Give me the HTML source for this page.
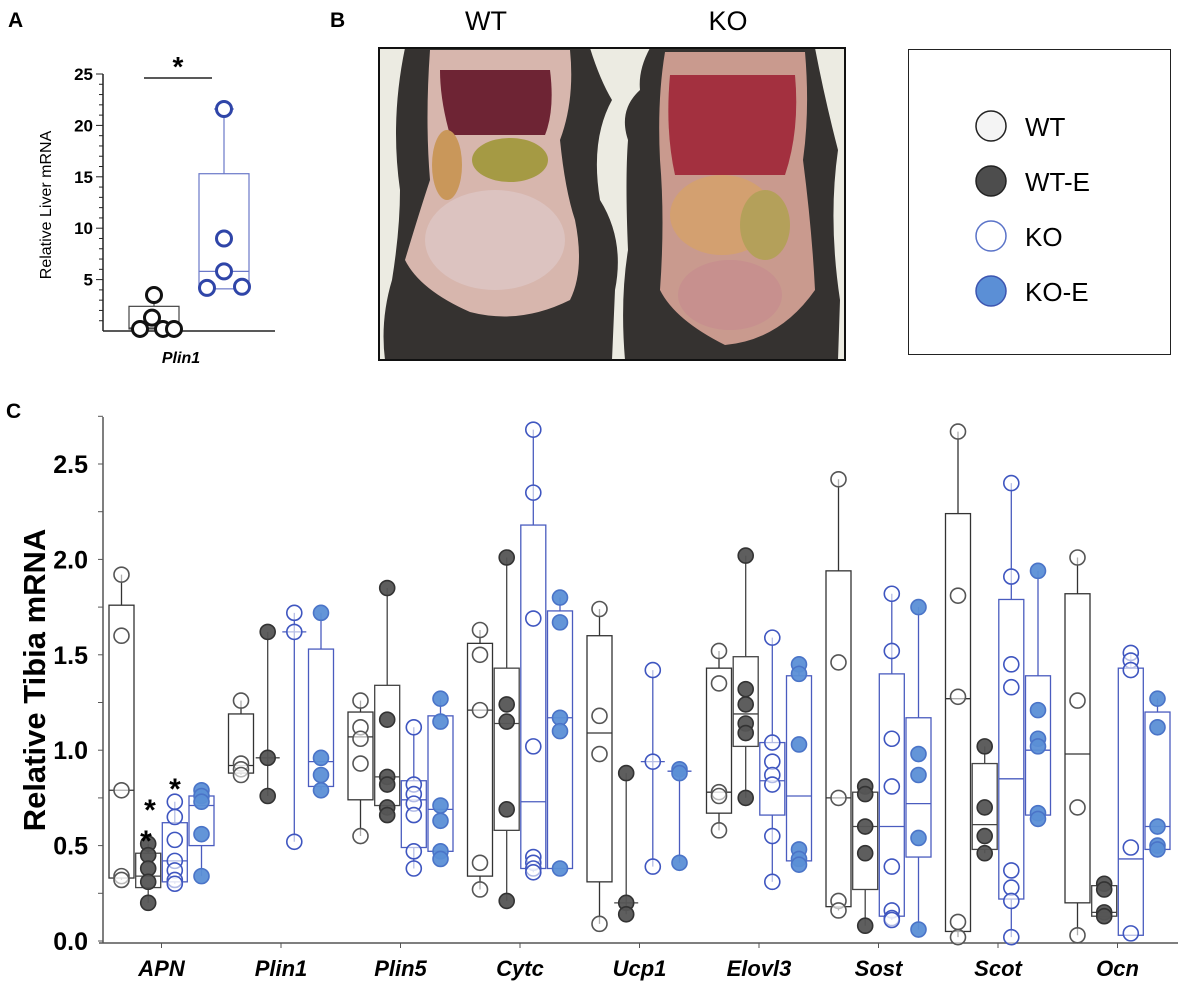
<!DOCTYPE html>
<html><head><meta charset="utf-8"><style>
html,body{margin:0;padding:0;background:#fff}
svg{display:block;font-family:"Liberation Sans",Arial,sans-serif}
</style></head><body>
<svg id="fig" width="1181" height="997" viewBox="0 0 1181 997">
<text x="8" y="27" font-size="21" font-weight="bold">A</text>
<text x="330" y="27" font-size="21" font-weight="bold">B</text>
<text x="6" y="418" font-size="21" font-weight="bold">C</text>

<!-- Panel B photo -->
<g>
<text x="486" y="30" font-size="27" text-anchor="middle">WT</text>
<text x="728" y="30" font-size="27" text-anchor="middle">KO</text>
<rect x="379" y="48" width="466" height="312" fill="#ecebe2"/>
<path d="M405 48 L590 48 Q600 80 612 100 Q590 140 600 200 Q625 240 615 290 L612 360 L385 360 Q380 320 392 280 Q400 230 400 190 Q390 120 405 48Z" fill="#353230"/>
<path d="M430 50 L570 50 Q575 100 560 140 Q565 190 575 220 Q585 270 570 300 Q520 325 470 312 Q420 290 405 260 Q420 210 430 180 Q425 120 430 50Z" fill="#d7b6ad"/>
<path d="M440 70 L550 70 Q555 110 545 135 L450 135 Q440 100 440 70Z" fill="#6e2434"/>
<ellipse cx="510" cy="160" rx="38" ry="22" fill="#a59a44"/>
<ellipse cx="447" cy="165" rx="15" ry="35" fill="#c9975a"/>
<ellipse cx="495" cy="240" rx="70" ry="50" fill="#dcc3c0"/>
<path d="M650 48 L815 48 Q825 100 838 150 Q828 220 840 300 L838 360 L625 360 Q620 300 628 250 Q625 180 628 140 Q618 110 640 90 Q638 70 650 48Z" fill="#353230"/>
<path d="M665 52 L805 52 Q810 110 803 160 Q812 230 815 290 Q780 340 725 345 Q675 320 660 290 Q665 220 660 160 Q657 100 665 52Z" fill="#c99a8e"/>
<path d="M670 75 L795 75 Q800 130 785 175 L675 175 Q665 130 670 75Z" fill="#a3303f"/>
<ellipse cx="722" cy="215" rx="52" ry="40" fill="#d3a070"/>
<ellipse cx="765" cy="225" rx="25" ry="35" fill="#b4a05a"/>
<ellipse cx="730" cy="295" rx="52" ry="35" fill="#c7908e"/>
<rect x="379" y="48" width="466" height="312" fill="none" stroke="#111" stroke-width="2"/>
</g>

<!-- Legend -->
<g>
<rect x="908.5" y="49.5" width="262" height="305" fill="#fff" stroke="#222" stroke-width="1"/>
<g><circle cx="991" cy="126" r="15" fill="#f4f4f4" stroke="#222" stroke-width="1.5"/><text x="1025" y="136" font-size="26">WT</text></g>
<g><circle cx="991" cy="181" r="15" fill="#4d4d4d" stroke="#222" stroke-width="1.5"/><text x="1025" y="191" font-size="26">WT-E</text></g>
<g><circle cx="991" cy="236" r="15" fill="#fff" stroke="#5a73c8" stroke-width="1.5"/><text x="1025" y="246" font-size="26">KO</text></g>
<g><circle cx="991" cy="291" r="15" fill="#5b8fd6" stroke="#3c55b0" stroke-width="1.5"/><text x="1025" y="301" font-size="26">KO-E</text></g>
</g>

<g id="chartA"></g>
<g id="chartC"></g>
</svg>
<script>
// ---------- Panel A data ----------
const aTicks = [5, 10, 15, 20, 25];
const aWtPts = [3.5, 1.3, 0.2, 0.2, 0.2];
const aWtBox = [0.2, 0.2, 0.3, 2.4, 3.5];
const aKoPts = [21.6, 9.0, 5.8, 4.2, 4.3];
const aKoBox = [4.1, 4.1, 5.8, 15.3, 21.6];

// ---------- Panel C data ----------
const genes = ["APN","Plin1","Plin5","Cytc","Ucp1","Elovl3","Sost","Scot","Ocn"];
const cTicks = ["0.0","0.5","1.0","1.5","2.0","2.5"];
const wtPts = [[1.92,1.6,0.79,0.34,0.32],[1.26,0.93,0.9,0.87],[1.26,1.12,1.06,0.93,0.55],[1.63,1.5,1.21,0.41,0.27],[1.74,1.18,0.98,0.09],[1.52,1.35,0.78,0.76,0.58],[2.42,1.46,0.75,0.21,0.16],[2.67,1.81,1.28,0.1,0.02],[2.01,1.26,0.7,0.03]];
const wtBox = [[0.32,0.33,0.79,1.76,1.92],[0.87,0.88,0.92,1.19,1.26],[0.55,0.74,1.07,1.2,1.26],[0.27,0.34,1.21,1.56,1.63],[0.09,0.31,1.09,1.6,1.74],[0.58,0.67,0.78,1.43,1.52],[0.16,0.18,0.75,1.94,2.42],[0.02,0.05,1.27,2.24,2.67],[0.03,0.2,0.98,1.82,2.01]];
const wtePts = [[0.51,0.45,0.38,0.31,0.2],[1.62,0.96,0.76],[1.85,1.16,0.86,0.82,0.7,0.66],[2.01,1.24,1.15,0.69,0.21],[0.88,0.2,0.14],[2.02,1.32,1.24,1.14,1.09,0.75],[0.81,0.77,0.6,0.46,0.08],[1.02,0.7,0.55,0.46],[0.3,0.27,0.15,0.13]];
const wteBox = [[0.2,0.28,0.34,0.46,0.51],[0.76,null,0.96,null,1.62],[0.66,0.71,0.86,1.34,1.85],[0.21,0.58,1.14,1.43,2.01],[0.14,null,0.2,null,0.88],[0.75,1.02,1.19,1.49,2.02],[0.08,0.27,0.6,0.78,0.81],[0.46,0.48,0.61,0.93,1.02],[0.13,0.13,0.15,0.29,0.3]];
const koPts = [[0.73,0.65,0.53,0.42,0.37,0.32,0.3],[1.72,1.62,0.52],[1.12,0.82,0.77,0.72,0.66,0.47,0.38],[2.68,2.35,1.69,1.02,0.44,0.41,0.38,0.36],[1.42,0.94,0.39],[1.59,1.04,0.94,0.87,0.82,0.55,0.31],[1.82,1.52,1.06,0.81,0.39,0.16,0.12,0.11],[2.4,1.91,1.45,1.33,0.37,0.28,0.21,0.02],[1.51,1.47,1.42,0.49,0.04]];
const koBox = [[0.3,0.31,0.42,0.62,0.73],[0.52,null,1.62,null,1.72],[0.38,0.49,0.74,0.84,1.12],[0.36,0.38,0.73,2.18,2.68],[0.39,null,0.94,null,1.42],[0.31,0.66,0.84,1.04,1.59],[0.11,0.13,0.6,1.4,1.82],[0.02,0.22,0.85,1.79,2.4],[0.04,0.03,0.43,1.43,1.51]];
const koePts = [[0.79,0.76,0.73,0.56,0.34],[1.72,0.96,0.87,0.79],[1.27,1.15,0.71,0.63,0.47,0.43],[1.8,1.67,1.17,1.1,0.38],[0.9,0.88,0.41],[1.45,1.4,1.03,0.48,0.43,0.4],[1.75,0.98,0.87,0.54,0.06],[1.94,1.21,1.06,1.02,0.67,0.64],[1.27,1.12,0.6,0.5,0.48]];
const koeBox = [[0.34,0.5,0.71,0.76,0.79],[0.79,0.81,0.94,1.53,1.72],[0.43,0.47,0.69,1.18,1.27],[0.38,0.38,1.17,1.73,1.8],[0.41,null,0.89,null,0.9],[0.4,0.42,0.76,1.39,1.45],[0.06,0.44,0.72,1.17,1.75],[0.64,0.66,1.0,1.39,1.94],[0.48,0.48,0.6,1.2,1.27]];

const NS = "http://www.w3.org/2000/svg";
function mk(parent, tag, attrs){const e=document.createElementNS(NS,tag);for(const k in attrs)e.setAttribute(k,attrs[k]);parent.appendChild(e);return e;}

const styles = {
  wt:{box:"#333",pt:"#555",fill:"#fff"},
  wte:{box:"#444",pt:"#333",fill:"#555"},
  ko:{box:"#4a5cbf",pt:"#3f56c0",fill:"#fff"},
  koe:{box:"#4a5cbf",pt:"#4a74c8",fill:"#5b8fd6"}
};

function drawBox(g, cx, w, b, yf, st, capW, sw){
  const [mn,q1,md,q3,mx]=b;
  const wl=mk(g,"line",{x1:cx,x2:cx,y1:yf(mn),y2:yf(mx),stroke:st.box,"stroke-width":sw});
  
  
  if(q1!==null){
    const r=mk(g,"rect",{x:cx-w/2,y:yf(q3),width:w,height:yf(q1)-yf(q3),fill:"#fff",stroke:st.box,"stroke-width":sw});
    
    
    mk(g,"line",{x1:cx-w/2,x2:cx+w/2,y1:yf(md),y2:yf(md),stroke:st.box,"stroke-width":sw});
  } else {
    const m=mk(g,"line",{x1:cx-capW,x2:cx+capW,y1:yf(md),y2:yf(md),stroke:st.box,"stroke-width":sw});
    
    
  }
}
function drawPts(g, cx, pts, yf, st, r, dx){
  pts.forEach((v,i)=>{
    const c=mk(g,"circle",{cx:cx+(dx?dx[i]||0:0),cy:yf(v),r:r,fill:st.fill,stroke:st.pt,"stroke-width":1.6,"fill-opacity":st.fill==="#fff"?0.6:0.95});
    
    
  });
}

// ---------- Panel A ----------
(function(){
  const g=document.getElementById("chartA");
  const yA=v=>331-v*10.28;
  mk(g,"line",{x1:103,x2:103,y1:yA(25),y2:331,stroke:"#222","stroke-width":1.5});
  mk(g,"line",{x1:103,x2:275,y1:331,y2:331,stroke:"#222","stroke-width":1.5});
  for(let v=1;v<=25;v++){mk(g,"line",{x1:(v%5===0?96:99),x2:103,y1:yA(v),y2:yA(v),stroke:"#222","stroke-width":1});}
  aTicks.forEach(t=>{const tx=mk(g,"text",{x:93,y:yA(t)+6,"font-size":17,"font-weight":"bold","text-anchor":"end"});tx.textContent=t;
    
    });
  const yt=mk(g,"text",{x:0,y:0,"font-size":16,"text-anchor":"middle",transform:"translate(51,205) rotate(-90)"});yt.textContent="Relative Liver mRNA";
  
  
  const xl=mk(g,"text",{x:181,y:363,"font-size":16,"font-weight":"bold","font-style":"italic","text-anchor":"middle"});xl.textContent="Plin1";
  
  
  mk(g,"line",{x1:144,x2:212,y1:78,y2:78,stroke:"#222","stroke-width":1.5});
  const s=mk(g,"text",{x:178,y:76,"font-size":28,"font-weight":"bold","text-anchor":"middle"});s.textContent="*";
  
  
  drawBox(g,154,50,aWtBox,yA,{box:"#444"},8,1.2);
  mk(g,"line",{x1:146,x2:162,y1:yA(3.5),y2:yA(3.5),stroke:"#222"});
  drawPts(g,154,aWtPts,yA,{fill:"#fff",pt:"#111"},7.5,[0,-2,-14,9,20]);
  drawBox(g,224,50,aKoBox,yA,{box:"#6a78c8"},8,1.2);
  mk(g,"line",{x1:214,x2:234,y1:yA(21.6),y2:yA(21.6),stroke:"#4a5cbf"});
  drawPts(g,224,aKoPts,yA,{fill:"#fff",pt:"#2f45a8"},7.5,[0,0,0,-17,18]);
  g.querySelectorAll("circle").forEach(c=>{c.setAttribute("stroke-width","3");c.setAttribute("fill-opacity","1");});
})();

// ---------- Panel C ----------
(function(){
  const g=document.getElementById("chartC");
  const y0=941, k=190.8;
  const yC=v=>y0-v*k;
  const xGroup=i=>161.5+i*119.5;
  const offs=[-40,-13.3,13.3,40];
  mk(g,"line",{x1:103,x2:103,y1:417,y2:943,stroke:"#555","stroke-width":1.5});
  mk(g,"line",{x1:99,x2:1178,y1:943,y2:943,stroke:"#555","stroke-width":1.5});
  for(let v=0;v<=2.75;v+=0.25){mk(g,"line",{x1:98,x2:103,y1:yC(v),y2:yC(v),stroke:"#555","stroke-width":1});}
  cTicks.forEach(t=>{const tx=mk(g,"text",{x:88,y:yC(parseFloat(t))+9,"font-size":25,"font-weight":"bold","text-anchor":"end"});tx.textContent=t;
    
    });
  const yt=mk(g,"text",{x:0,y:0,"font-size":31,"font-weight":"bold","text-anchor":"middle",transform:"translate(45,680) rotate(-90)"});yt.textContent="Relative Tibia mRNA";
  
  
  const series=[[wtPts,wtBox,styles.wt],[wtePts,wteBox,styles.wte],[koPts,koBox,styles.ko],[koePts,koeBox,styles.koe]];
  genes.forEach((gn,i)=>{
    const cx=xGroup(i);
    mk(g,"line",{x1:cx,x2:cx,y1:943,y2:948,stroke:"#555"});
    const lb=mk(g,"text",{x:cx,y:976,"font-size":22,"font-weight":"bold","font-style":"italic","text-anchor":"middle"});lb.textContent=gn;
    
    
    const gg=mk(g,"g",{});
    
    
    series.forEach(([pts,box,st],j)=>{
      const bx=cx+offs[j];
      drawBox(gg,bx,25,box[i],yC,st,12,1.3);
      drawPts(gg,bx,pts[i],yC,st,7.5,null);
    });
  });
  [[146,851],[150,820],[175,799]].forEach(p=>{const s=mk(g,"text",{x:p[0],y:p[1],"font-size":30,"font-weight":"bold","text-anchor":"middle"});s.textContent="*";
    
    });
})();
</script>
</body></html>
